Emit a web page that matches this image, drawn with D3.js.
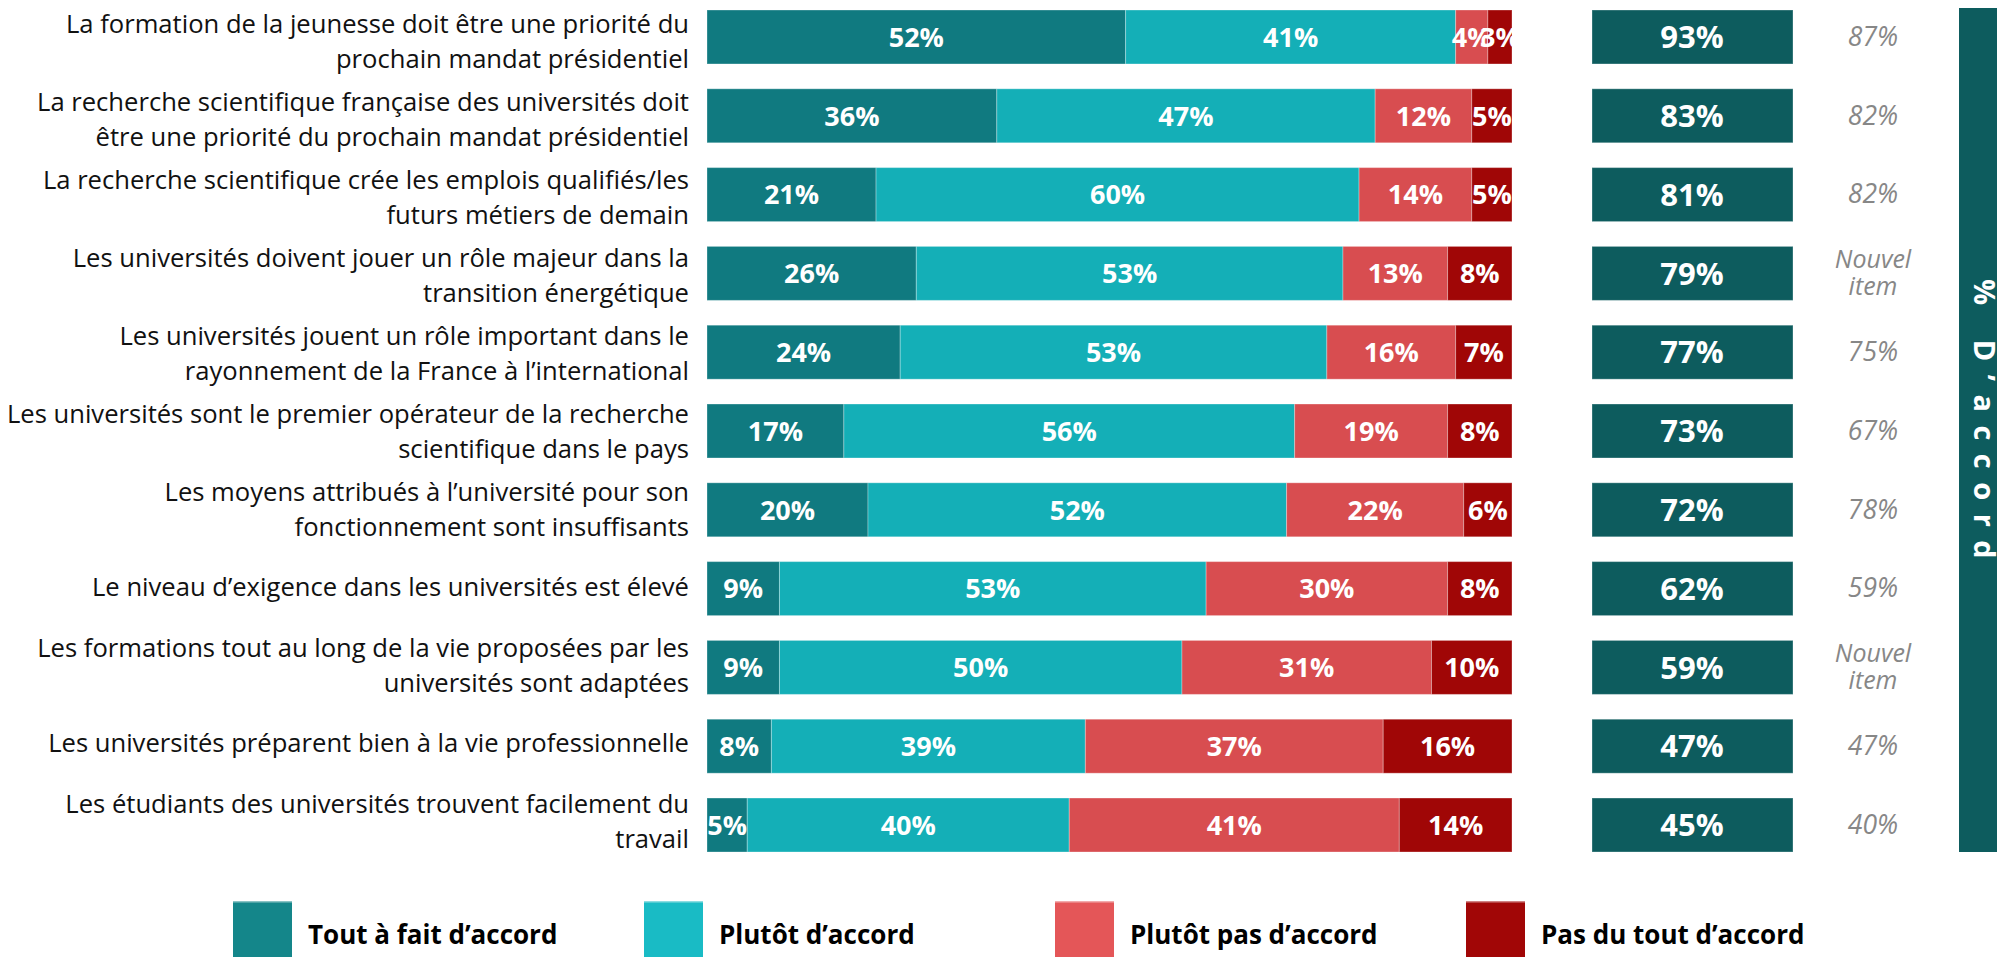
<!DOCTYPE html>
<html>
<head>
<meta charset="utf-8">
<script src="https://cdn.jsdelivr.net/npm/d3@7"></script>
<style>
  body { margin: 0; background: #fff; }
  svg { display: block; }
</style>
</head>
<body>
<div class="chart"></div>
<script>
// data
var items = [
  ["La formation de la jeunesse doit être une priorité du", "prochain mandat présidentiel"],
  ["La recherche scientifique française des universités doit", "être une priorité du prochain mandat présidentiel"],
  ["La recherche scientifique crée les emplois qualifiés/les", "futurs métiers de demain"],
  ["Les universités doivent jouer un rôle majeur dans la", "transition énergétique"],
  ["Les universités jouent un rôle important dans le", "rayonnement de la France à l’international"],
  ["Les universités sont le premier opérateur de la recherche", "scientifique dans le pays"],
  ["Les moyens attribués à l’université pour son", "fonctionnement sont insuffisants"],
  ["Le niveau d’exigence dans les universités est élevé"],
  ["Les formations tout au long de la vie proposées par les", "universités sont adaptées"],
  ["Les universités préparent bien à la vie professionnelle"],
  ["Les étudiants des universités trouvent facilement du", "travail"]
];
var series = ["Tout à fait d’accord", "Plutôt d’accord", "Plutôt pas d’accord", "Pas du tout d’accord"];
var toutAFait   = [52, 36, 21, 26, 24, 17, 20, 9, 9, 8, 5];
var plutot      = [41, 47, 60, 53, 53, 56, 52, 53, 50, 39, 40];
var plutotPas   = [4, 12, 14, 13, 16, 19, 22, 30, 31, 37, 41];
var pasDuTout   = [3, 5, 5, 8, 7, 8, 6, 8, 10, 16, 14];
var totalAccord = [93, 83, 81, 79, 77, 73, 72, 62, 59, 47, 45];
var previous    = ["87%", "82%", "82%", "Nouvel item", "75%", "67%", "78%", "59%", "Nouvel item", "47%", "40%"];

var barColors = ["#107a80", "#14afb7", "#d84d50", "#a00606"];
var legendColors = ["#14868a", "#19bbc5", "#e45658", "#a10606"];
var dark = "#0d5c5e";

var svgWidth = 1997, svgHeight = 957;

var svg = d3.select(".chart")
  .append("svg")
  .attr("width", svgWidth)
  .attr("height", svgHeight);

var table = items.map(function(lines, i) {
  return {
    idx: i,
    lines: lines,
    s0: toutAFait[i], s1: plutot[i], s2: plutotPas[i], s3: pasDuTout[i],
    total: totalAccord[i],
    prev: previous[i]
  };
});

// scales
var x = d3.scaleLinear().domain([0, 100]).range([707, 1512]);
var y = d3.scaleBand()
  .domain(d3.range(items.length))
  .range([10, 852])
  .paddingInner(0.315)
  .paddingOuter(0);

var stack = d3.stack().keys(["s0", "s1", "s2", "s3"]);
var stacked = stack(table);

// stacked bars
var layers = svg.append("g").selectAll("g")
  .data(stacked)
  .enter()
  .append("g")
  .attr("fill", (d, i) => barColors[i]);

layers.selectAll("rect")
  .data(d => d)
  .enter()
  .append("rect")
  .attr("x", d => x(d[0]))
  .attr("y", d => y(d.data.idx))
  .attr("width", d => x(d[1]) - x(d[0]))
  .attr("height", y.bandwidth())
  .attr("stroke", "rgba(255,255,255,0.3)")
  .attr("stroke-width", 1);

layers.selectAll("text")
  .data(d => d)
  .enter()
  .append("text")
  .attr("x", d => (x(d[0]) + x(d[1])) / 2)
  .attr("y", d => y(d.data.idx) + y.bandwidth() / 2)
  .attr("dy", "0.36em")
  .attr("text-anchor", "middle")
  .attr("fill", "#fff")
  .style("font-family", "'Open Sans', sans-serif")
  .style("font-weight", "700")
  .style("font-size", "27px")
  .text(d => (d[1] - d[0]) + "%");

// category labels (text block sits a bit low at the top, a bit high at the bottom)
var labels = svg.append("g")
  .selectAll("text")
  .data(table)
  .enter()
  .append("text")
  .attr("text-anchor", "end")
  .attr("fill", "#111")
  .style("font-family", "'Open Sans', sans-serif")
  .style("font-size", "25.6px");

labels.each(function(d) {
  var cy = y(d.idx) + y.bandwidth() / 2 + 4.5 - 0.8 * d.idx;
  var n = d.lines.length;
  var self = d3.select(this);
  d.lines.forEach(function(line, k) {
    self.append("tspan")
      .attr("x", 689)
      .attr("y", cy + (k - (n - 1) / 2) * 35)
      .attr("dy", "0.35em")
      .text(line);
  });
});

// total agreement boxes
var totals = svg.append("g");
totals.selectAll("rect")
  .data(table)
  .enter()
  .append("rect")
  .attr("x", 1592)
  .attr("y", d => y(d.idx))
  .attr("width", 201)
  .attr("height", y.bandwidth())
  .attr("fill", dark)
  .attr("stroke", "rgba(255,255,255,0.3)")
  .attr("stroke-width", 1);

totals.selectAll("text")
  .data(table)
  .enter()
  .append("text")
  .attr("x", 1692)
  .attr("y", d => y(d.idx) + y.bandwidth() / 2)
  .attr("dy", "0.36em")
  .attr("text-anchor", "middle")
  .attr("fill", "#fff")
  .style("font-family", "'Open Sans', sans-serif")
  .style("font-weight", "700")
  .style("font-size", "31px")
  .text(d => d.total + "%");

// previous wave
var prevText = svg.append("g")
  .selectAll("text")
  .data(table)
  .enter()
  .append("text")
  .attr("text-anchor", "middle")
  .attr("fill", "#878787")
  .style("font-family", "'Open Sans', sans-serif")
  .style("font-style", "italic")
  .style("font-size", "26.5px");

prevText.each(function(d) {
  var cy = y(d.idx) + y.bandwidth() / 2;
  var self = d3.select(this);
  var parts = d.prev.indexOf("%") > -1 ? [d.prev] : d.prev.split(" ");
  var fs = parts.length > 1 ? "25px" : null;
  parts.forEach(function(p, k) {
    self.append("tspan")
      .attr("x", 1873)
      .attr("y", cy + (k - (parts.length - 1) / 2) * 27)
      .attr("dy", "0.33em")
      .style("font-size", fs)
      .text(p);
  });
});

// right band "% D'accord"
svg.append("rect")
  .attr("x", 1959)
  .attr("y", 8)
  .attr("width", 60)
  .attr("height", y(items.length - 1) + y.bandwidth() - 8)
  .attr("fill", dark);

svg.append("text")
  .attr("transform", "translate(1974,279) rotate(90)")
  .attr("fill", "#fff")
  .style("font-family", "'Open Sans', sans-serif")
  .style("font-weight", "700")
  .style("font-size", "29px")
  .style("letter-spacing", "13.5px")
  .text("% D’accord");

// legend
var legend = svg.append("g")
  .selectAll("g")
  .data(series)
  .enter()
  .append("g")
  .attr("transform", (d, i) => `translate(${233 + i * 411}, 901)`);

legend.append("rect")
  .attr("width", 59)
  .attr("height", 70)
  .attr("fill", (d, i) => legendColors[i]);

legend.append("rect")
  .attr("width", 59)
  .attr("height", 1.5)
  .attr("fill", "rgba(255,255,255,0.5)");

legend.append("text")
  .attr("x", 75)
  .attr("y", 43)
  .attr("fill", "#000")
  .style("font-family", "'Open Sans', sans-serif")
  .style("font-weight", "700")
  .style("font-size", "26px")
  .text(d => d);
</script>
</body>
</html>
